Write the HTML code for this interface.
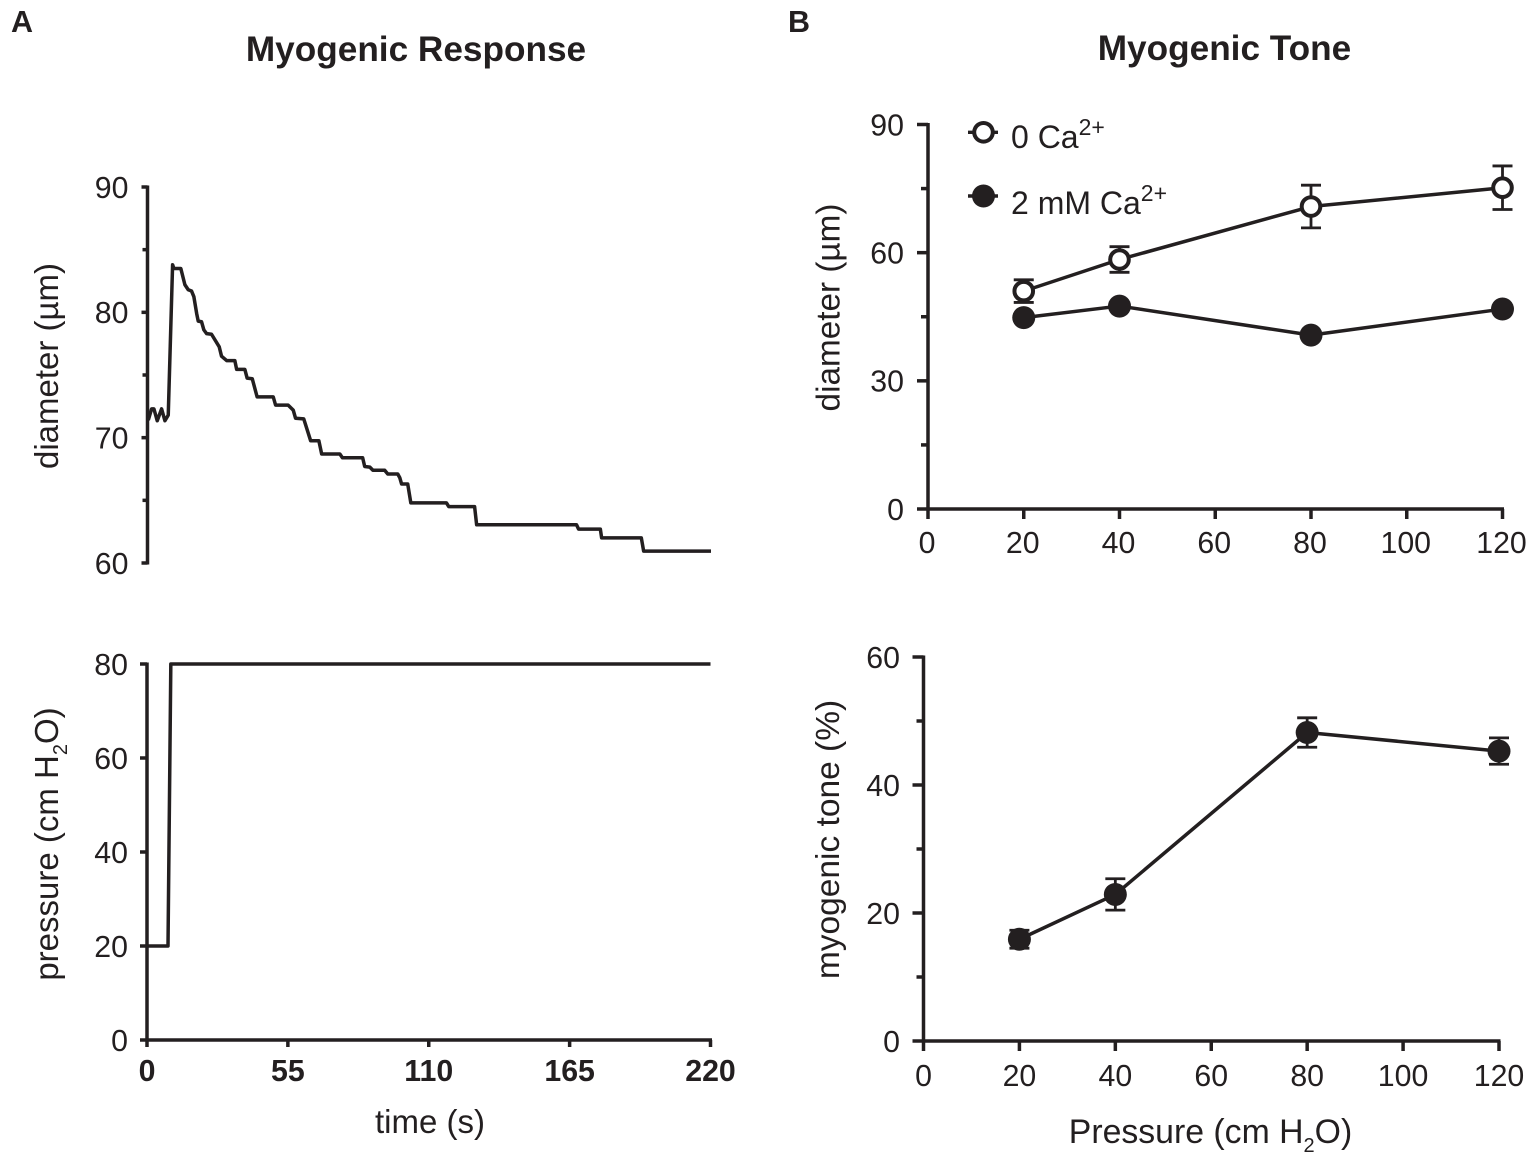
<!DOCTYPE html>
<html lang="en">
<head>
<meta charset="utf-8">
<title>Myogenic Response and Myogenic Tone</title>
<style>
html,body{margin:0;padding:0;background:#fff;}
svg{display:block;}
text{font-family:"Liberation Sans",Arial,sans-serif;fill:#231f20;}
.tick{font-size:30.3px;}
.axt{font-size:33px;}
.leg{font-size:32px;}
.title{font-size:35.2px;font-weight:bold;}
.panel{font-size:30.5px;font-weight:bold;}
.bold{font-weight:bold;}
</style>
</head>
<body>
<svg id="fig" xmlns="http://www.w3.org/2000/svg" width="1535" height="1160" viewBox="0 0 1535 1160">
  <rect width="1535" height="1160" fill="#fff"/>
  <text class="panel" x="11" y="32">A</text>
  <text class="panel" x="788" y="32">B</text>
  <text class="title" x="416" y="61" text-anchor="middle">Myogenic Response</text>
  <text class="title" x="1224.5" y="60" text-anchor="middle">Myogenic Tone</text>

  <text class="axt" transform="translate(58,366) rotate(-90)" text-anchor="middle">diameter (µm)</text>
  <text class="axt" transform="translate(58,844) rotate(-90)" text-anchor="middle">pressure (cm H<tspan font-size="20" dy="9">2</tspan><tspan dy="-9">O)</tspan></text>
  <text class="axt" x="430" y="1133" text-anchor="middle">time (s)</text>
  <text class="axt" style="font-size:33.3px" transform="translate(839.5,307.5) rotate(-90)" text-anchor="middle">diameter (µm)</text>
  <text class="axt" style="font-size:33.5px" transform="translate(839,839.5) rotate(-90)" text-anchor="middle">myogenic tone (%)</text>
  <text class="axt" style="font-size:33.8px" x="1210.5" y="1143" text-anchor="middle">Pressure (cm H<tspan font-size="20" dy="9">2</tspan><tspan dy="-9">O)</tspan></text>

  <g>
    <line x1="968" x2="998" y1="132.3" y2="132.3" stroke="#231f20" stroke-width="3.4"/>
    <circle cx="983.5" cy="132.3" r="9.3" fill="#fff" stroke="#231f20" stroke-width="4"/>
    <text class="leg" x="1011" y="148">0 Ca<tspan font-size="23" dy="-13">2+</tspan></text>
    <line x1="968" x2="998" y1="196" y2="196" stroke="#231f20" stroke-width="3.4"/>
    <circle cx="983.5" cy="196" r="11.5" fill="#231f20"/>
    <text class="leg" x="1011" y="214">2 mM Ca<tspan font-size="23" dy="-13">2+</tspan></text>
  </g>
</svg>
<script>
// Panel A, top: diameter trace
const traceTime = [0.3,1.6,2.5,3.8,5.5,6.8,8.1,9.8,10.3,13,14.6,15.9,17.2,18.1,19.2,19.8,21.1,22,23.1,25,28,28.9,30.9,34.1,34.8,38,38.9,40.9,42.8,49.1,50,54.9,56.9,57.8,61,63.7,66.9,68,75.1,76.1,84,84.8,86.8,88,92.6,93.8,97.7,98.5,99.2,101.6,102.8,116.7,117.6,127.7,128.5,167.5,168.3,176.8,177.3,192.8,193.7,220];
const traceDiameter = [71.4,72.3,72.3,71.35,72.3,71.35,71.8,83.8,83.5,83.5,82.2,81.8,81.7,81.25,79.9,79.3,79.25,78.6,78.3,78.25,77.25,76.5,76.15,76.15,75.45,75.45,74.75,74.7,73.25,73.25,72.6,72.6,72.2,71.55,71.5,69.75,69.75,68.7,68.7,68.4,68.4,67.7,67.65,67.4,67.4,67.1,67.1,66.8,66.3,66.3,64.8,64.8,64.5,64.5,63.05,63.05,62.7,62.7,62,62,60.95,60.95];
const traceYTicks = [60,65,70,75,80,85,90];
const traceYLabels = ['60','','70','','80','','90'];

// Panel A, bottom: pressure step
const stepTime = [0,8.2,9.3,220];
const stepPressure = [20,20,80,80];
const stepYTicks = [0,20,40,60,80];
const stepYLabels = ['0','20','40','60','80'];
const stepXTicks = [0,55,110,165,220];
const stepXLabels = ['0','55','110','165','220'];

// Panel B, top: diameter vs pressure
const pressureLevels = [20,40,80,120];
const diameterOpen = [51.0,58.4,70.8,75.2];
const diameterOpenErr = [2.65,3.0,5.0,5.1];
const diameterFilled = [44.8,47.5,40.7,46.8];
const diameterYTicks = [0,15,30,45,60,75,90];
const diameterYLabels = ['0','','30','','60','','90'];
const pressureXTicks = [0,20,40,60,80,100,120];
const pressureXLabels = ['0','20','40','60','80','100','120'];

// Panel B, bottom: myogenic tone
const toneValues = [15.9,22.9,48.2,45.3];
const toneErr = [1.4,2.45,2.3,2.06];
const toneYTicks = [0,10,20,30,40,50,60];
const toneYLabels = ['0','','20','','40','','60'];

const INK = '#231f20';
const LW = 3.5;
const NS = 'http://www.w3.org/2000/svg';
const fig = document.getElementById('fig');

function scale(d0, d1, r0, r1) {
  return function (v) { return r0 + (v - d0) * (r1 - r0) / (d1 - d0); };
}
function line(parent, x1, y1, x2, y2, w) {
  const el = document.createElementNS(NS, 'line');
  el.setAttribute('x1', x1);
  el.setAttribute('y1', y1);
  el.setAttribute('x2', x2);
  el.setAttribute('y2', y2);
  el.setAttribute('stroke', INK);
  el.setAttribute('stroke-width', w);
  parent.appendChild(el);
  return el;
}
function label(parent, x, y, str, anchor, cls) {
  const el = document.createElementNS(NS, 'text');
  el.setAttribute('x', x);
  el.setAttribute('y', y);
  el.setAttribute('text-anchor', anchor);
  el.setAttribute('class', cls);
  el.textContent = str;
  parent.appendChild(el);
  return el;
}
function group(name) {
  const g = document.createElementNS(NS, 'g');
  
  
  fig.appendChild(g);
  return g;
}
function yAxis(g, xPos, yScale, ticks, labels, majorLen, minorLen, labelX) {
  const top = yScale(Math.max.apply(null, ticks));
  const bot = yScale(Math.min.apply(null, ticks));
  const spine = line(g, xPos, top - 1.5, xPos, bot + 1.5, LW);
  
  
  ticks.forEach(function (t, i) {
    const len = labels[i] ? majorLen : minorLen;
    const tk = line(g, xPos - len, yScale(t), xPos, yScale(t), LW);
    
    
    if (labels[i]) {
      const tl = label(g, labelX, yScale(t) + 10.8, labels[i], 'end', 'tick');
      
      
    }
  });
}
function xAxis(g, yPos, xScale, ticks, labels, tickLen, labelY, cls, labelShift) {
  const first = xScale(ticks[0]);
  const last = xScale(ticks[ticks.length - 1]);
  const spine = line(g, first - 1.5, yPos, last + 1.5, yPos, LW);
  
  
  ticks.forEach(function (t, i) {
    const tk = line(g, xScale(t), yPos, xScale(t), yPos + tickLen, LW);
    
    
    const tl = label(g, xScale(t) + labelShift, labelY, labels[i], 'middle', cls);
    
    
  });
}
function polyline(g, xs, ys, xScale, yScale, w) {
  const el = document.createElementNS(NS, 'polyline');
  el.setAttribute('points', xs.map(function (x, i) { return xScale(x).toFixed(2) + ',' + yScale(ys[i]).toFixed(2); }).join(' '));
  el.setAttribute('fill', 'none');
  el.setAttribute('stroke', INK);
  el.setAttribute('stroke-width', w);
  el.setAttribute('stroke-linejoin', 'round');
  g.appendChild(el);
  return el;
}
function errorBars(g, xs, ys, errs, xScale, yScale) {
  xs.forEach(function (x, i) {
    const cx = xScale(x);
    const hi = yScale(ys[i] + errs[i]);
    const lo = yScale(ys[i] - errs[i]);
    const stem = line(g, cx, hi, cx, lo, 2.8);
    
    
    const capHi = line(g, cx - 10, hi, cx + 10, hi, 2.8);
    
    
    const capLo = line(g, cx - 10, lo, cx + 10, lo, 2.8);
    
    
  });
}
function markers(g, xs, ys, xScale, yScale, open) {
  xs.forEach(function (x, i) {
    const c = document.createElementNS(NS, 'circle');
    c.setAttribute('cx', xScale(x));
    c.setAttribute('cy', yScale(ys[i]));
    c.setAttribute('r', open ? 9.3 : 11.5);
    c.setAttribute('fill', open ? '#fff' : INK);
    if (open) {
      c.setAttribute('stroke', INK);
      c.setAttribute('stroke-width', 4);
    }
    
    
    g.appendChild(c);
  });
}

// Panel A top
const aTopX = scale(0, 220, 147.5, 711);
const aTopY = scale(60, 90, 563, 187);
const gTrace = group('diameter-trace-chart');
yAxis(gTrace, 147.5, aTopY, traceYTicks, traceYLabels, 6, 5, 128.5);
const traceLine = polyline(gTrace, traceTime, traceDiameter, aTopX, aTopY, LW);



// Panel A bottom
const aBotX = scale(0, 220, 147, 710.5);
const aBotY = scale(0, 80, 1040, 664);
const gStep = group('pressure-step-chart');
yAxis(gStep, 147, aBotY, stepYTicks, stepYLabels, 7, 5, 128);
xAxis(gStep, 1040, aBotX, stepXTicks, stepXLabels, 7, 1081, 'tick bold', 0);
const stepLine = polyline(gStep, stepTime, stepPressure, aBotX, aBotY, LW);



// Panel B top
const bTopX = scale(0, 120, 928, 1502.5);
const bTopY = scale(0, 90, 509, 124.5);
const gDia = group('diameter-pressure-chart');
yAxis(gDia, 928, bTopY, diameterYTicks, diameterYLabels, 11, 7, 904);
xAxis(gDia, 509, bTopX, pressureXTicks, pressureXLabels, 10, 553, 'tick', -1);
const openLine = polyline(gDia, pressureLevels, diameterOpen, bTopX, bTopY, LW);


const filledLine = polyline(gDia, pressureLevels, diameterFilled, bTopX, bTopY, LW);


errorBars(gDia, pressureLevels, diameterOpen, diameterOpenErr, bTopX, bTopY);
markers(gDia, pressureLevels, diameterOpen, bTopX, bTopY, true);
markers(gDia, pressureLevels, diameterFilled, bTopX, bTopY, false);

// Panel B bottom
const bBotX = scale(0, 120, 923.5, 1499);
const bBotY = scale(0, 60, 1041, 657);
const gTone = group('myogenic-tone-chart');
yAxis(gTone, 923.5, bBotY, toneYTicks, toneYLabels, 11, 7, 900);
xAxis(gTone, 1041, bBotX, pressureXTicks, pressureXLabels, 10, 1086, 'tick', 0);
const toneLine = polyline(gTone, pressureLevels, toneValues, bBotX, bBotY, LW);


errorBars(gTone, pressureLevels, toneValues, toneErr, bBotX, bBotY);
markers(gTone, pressureLevels, toneValues, bBotX, bBotY, false);
</script>
</body>
</html>
